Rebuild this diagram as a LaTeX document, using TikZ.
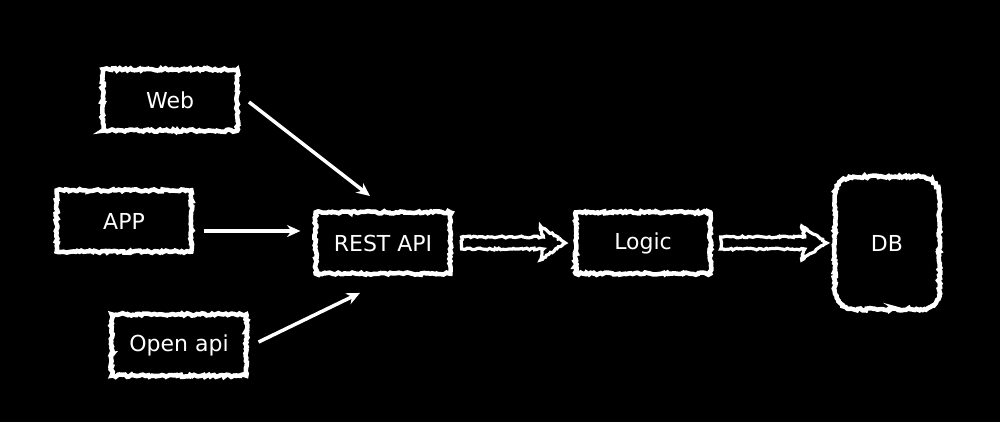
\documentclass[tikz,border=0pt]{standalone}
\usepackage{fontspec}
\setmainfont{DejaVu Sans}
\usetikzlibrary{decorations.pathmorphing,calc,arrows.meta}
\begin{document}
\begin{tikzpicture}[x=0.75pt,y=-0.75pt,
  chalk/.style={draw=white,line width=3.4pt,decorate,
    decoration={random steps,segment length=1.6pt,amplitude=0.9pt}},
  box/.style={chalk,fill=black,minimum width=101pt,minimum height=46pt,
    inner sep=0pt,text=white,font=\fontsize{16.5}{18}\selectfont},
  dbbox/.style={fill=black,minimum width=78pt,minimum height=99pt,
    inner sep=0pt,text=white,font=\fontsize{16.5}{18}\selectfont},
  thin/.style={draw=white,line width=2.6pt,-{Stealth[length=10pt,width=9pt]}},
  fat/.style={draw=white,line width=2.4pt,decorate,
    decoration={random steps,segment length=1.5pt,amplitude=0.7pt}}]
\pgfmathsetseed{7}
\fill[black] (0,0) rectangle (1000,422);
\useasboundingbox (0,0) rectangle (1000,422);
\node[box] (web) at (170,100) {Web};
\node[box] (app) at (124,221) {APP};
\node[box] (open) at (179,345) {Open api};
\node[box] (rest) at (383,243) {REST API};
\node[box] (logic) at (643,243) {Logic};
\node[dbbox] (db) at (887,243) {DB};
\draw[chalk] ($(db.north west)+(0,-14pt)$) arc[start angle=180,end angle=90,radius=14pt]
  -- ($(db.north east)+(-14pt,0)$) arc[start angle=90,end angle=0,radius=14pt]
  -- ($(db.south east)+(0,14pt)$) arc[start angle=0,end angle=-90,radius=14pt]
  -- ($(db.south west)+(14pt,0)$) arc[start angle=270,end angle=180,radius=14pt]
  -- cycle;
\coordinate (w1) at (249,102);
\coordinate (w2) at (370,196);
\draw[thin] (w1) -- (w2);
\draw[thin] ($(app.east)+(10,10)$) -- ($(rest.west)+(-13,-12)$);
\draw[thin] ($(open.east)+(10,-3)$) -- ($(rest.south)+(-23,17)$);
% fat arrows
\draw[fat] ($(rest.east)+(9,-6)$) -- ($(logic.west)+(-30,-6)$) -- ($(logic.west)+(-33,-17)$)
  -- ($(logic.west)+(-8,0)$) -- ($(logic.west)+(-33,17)$) -- ($(logic.west)+(-30,6)$)
  -- ($(rest.east)+(9,6)$) -- cycle;
\draw[fat] ($(logic.east)+(8,-6)$) -- ($(db.west)+(-30,-6)$) -- ($(db.west)+(-33,-17)$)
  -- ($(db.west)+(-8,0)$) -- ($(db.west)+(-33,17)$) -- ($(db.west)+(-30,6)$)
  -- ($(logic.east)+(8,6)$) -- cycle;
\end{tikzpicture}
\end{document}
